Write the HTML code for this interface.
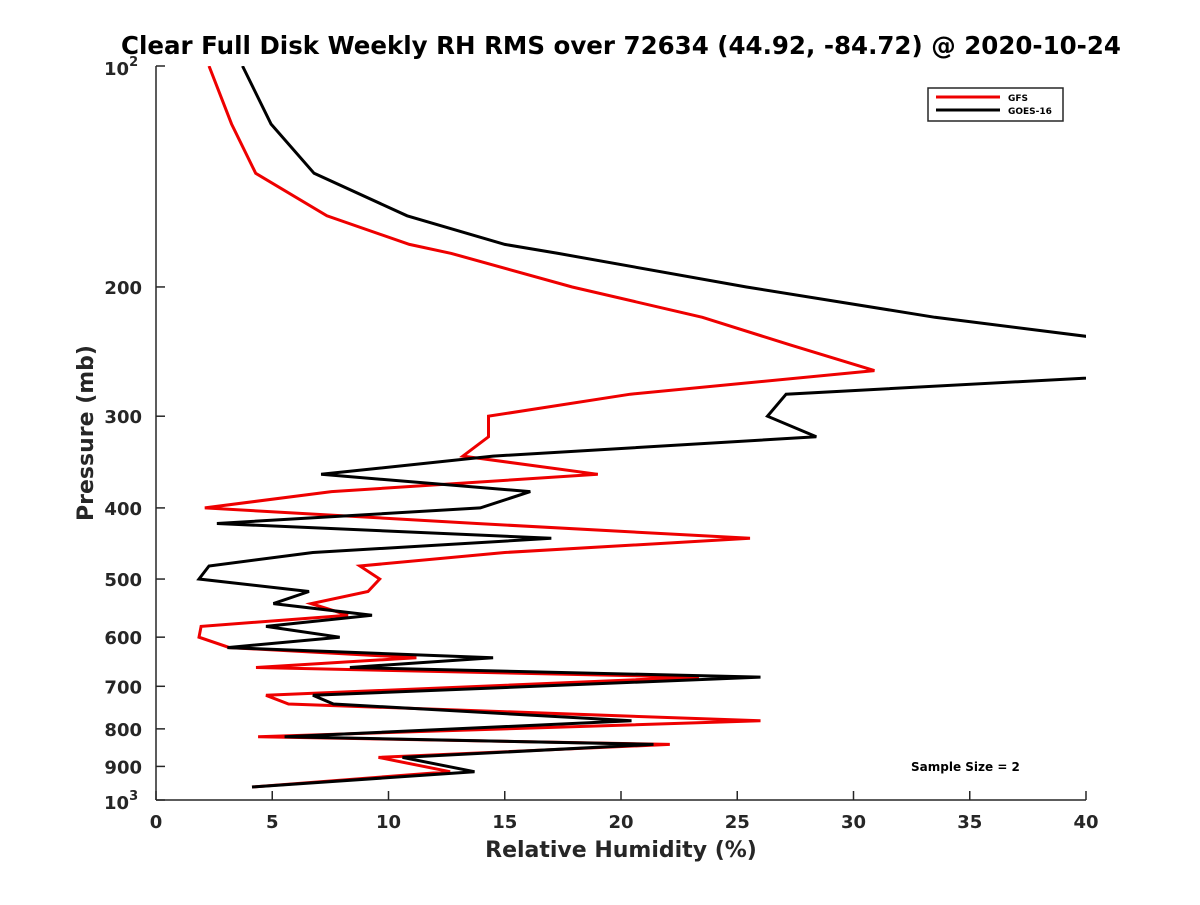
<!DOCTYPE html>
<html><head><meta charset="utf-8"><style>
body{margin:0;background:#fff}
svg text{font-family:"DejaVu Sans","Liberation Sans",sans-serif;font-weight:bold;fill:#262626}
</style></head><body>
<svg id="chart" width="1200" height="900" xmlns="http://www.w3.org/2000/svg">
<rect width="1200" height="900" fill="#fff"/>
<defs><clipPath id="clip"><rect x="156" y="66" width="930" height="734"/></clipPath></defs>
<text x="621" y="54" font-size="24.5" text-anchor="middle" style="fill:#000">Clear Full Disk Weekly RH RMS over 72634 (44.92, -84.72) @ 2020-10-24</text>
<g id="axes"></g>
<g id="series" clip-path="url(#clip)"></g>
<text x="621" y="857" font-size="22" text-anchor="middle">Relative Humidity (%)</text>
<text transform="translate(93,433) rotate(-90)" font-size="22" text-anchor="middle">Pressure (mb)</text>
<g>
<rect x="928" y="88" width="135" height="33" fill="#fff" stroke="#262626" stroke-width="1.5"/>
<line x1="936" y1="97" x2="1000" y2="97" stroke="#e00" stroke-width="3"/>
<text x="1008" y="101" font-size="9" style="fill:#000">GFS</text>
<line x1="936" y1="110" x2="1000" y2="110" stroke="#000" stroke-width="3"/>
<text x="1008" y="114" font-size="9" style="fill:#000">GOES-16</text>
</g>
<text x="911" y="771" font-size="12" style="fill:#000">Sample Size = 2</text>
</svg>
<script>
const pressures=[100,120,140,160,175,180,200,220,240,260,280,300,320,340,360,380,400,420,440,460,480,500,520,540,560,580,600,620,640,660,680,720,740,780,820,840,875,915,960];
const gfsValues=[2.28,3.25,4.29,7.35,10.9,12.7,17.9,23.5,27.3,30.9,20.4,14.3,14.3,13.2,19.0,7.55,2.1,13.8,25.55,15.0,8.77,9.62,9.12,6.67,8.26,1.94,1.85,3.16,11.2,4.3,23.35,4.73,5.7,26.0,4.39,22.1,9.57,12.65,4.13];
const goesValues=[3.72,4.95,6.8,10.8,15.0,17.3,25.4,33.5,43,46,27.1,26.3,28.4,14.5,7.1,16.1,13.95,2.62,17.0,6.75,2.28,1.85,6.58,5.05,9.29,4.73,7.9,3.07,14.5,8.34,26.0,6.75,7.63,20.45,5.53,21.4,10.6,13.7,4.13];
const xTicks=[0,5,10,15,20,25,30,35,40];
const yTicks=[200,300,400,500,600,700,800,900];
const NS="http://www.w3.org/2000/svg";
const X0=156,X1=1086,Y0=66,Y1=800;
const xs=v=>X0+(v-0)/40*(X1-X0);
const ys=p=>Y0+Math.log10(p/100)*(Y1-Y0);
function mk(tag,attrs,parent){const e=document.createElementNS(NS,tag);for(const k in attrs)e.setAttribute(k,attrs[k]);parent.appendChild(e);return e;}
const ax=document.getElementById('axes');
const xl=mk('line',{x1:X0,y1:Y1,x2:X1,y2:Y1,stroke:'#262626','stroke-width':1.5},ax);


const yl=mk('line',{x1:X0,y1:Y0,x2:X0,y2:Y1,stroke:'#262626','stroke-width':1.5},ax);


xTicks.forEach(t=>{
  mk('line',{x1:xs(t),y1:Y1,x2:xs(t),y2:Y1-9,stroke:'#262626','stroke-width':1.5},ax);
  const tx=mk('text',{x:xs(t),y:Y1+28,'font-size':18,'text-anchor':'middle'},ax);
  tx.textContent=t;
  
  
});
[100,1000].concat(yTicks).forEach(p=>{
  mk('line',{x1:X0,y1:ys(p),x2:X0+9,y2:ys(p),stroke:'#262626','stroke-width':1.5},ax);
});
yTicks.forEach(p=>{
  const tx=mk('text',{x:X0-14,y:ys(p)+7,'font-size':18,'text-anchor':'end'},ax);
  tx.textContent=p;
  
  
});
[[100,'2'],[1000,'3']].forEach(([p,e])=>{
  const tx=mk('text',{x:X0-52,y:ys(p)+9,'font-size':18},ax);
  tx.textContent='10';
  
  
  const sp=mk('tspan',{dy:-9,'font-size':13},tx);
  sp.textContent=e;
});
const sg=document.getElementById('series');
function line(vals,color,name){
  const pts=vals.map((v,i)=>xs(v).toFixed(1)+','+ys(pressures[i]).toFixed(1)).join(' ');
  const pl=mk('polyline',{points:pts,fill:'none',stroke:color,'stroke-width':3,'stroke-linejoin':'miter'},sg);
  
  
}
line(gfsValues,'#e00','gfs-line');
line(goesValues,'#000','goes16-line');
</script>
</body></html>
